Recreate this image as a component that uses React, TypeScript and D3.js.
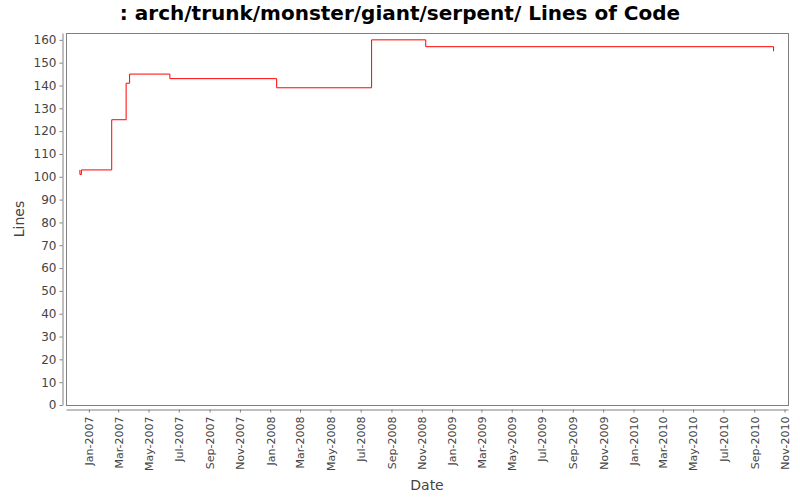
import { useEffect, useRef } from "react";

import * as d3 from "d3";

// change dates and line counts
const change_dates: string[] = [
    "2006-12-14", "2006-12-14", "2006-12-17", "2007-02-16", "2007-03-17",
    "2007-03-24", "2007-06-13", "2008-01-14", "2008-07-23", "2008-11-09",
    "2010-10-10",
];
const line_counts: number[] = [103, 101, 103, 125, 141, 145, 143, 139, 160, 157, 155];

const y_ticks: number[] = d3.range(0, 161, 10);
const x_domain: string[] = ["2006-11-16", "2010-11-08"];
const y_domain: number[] = [0, 163];

const title = ": arch/trunk/monster/giant/serpent/ Lines of Code";

export default function App() {
    const ref = useRef(null);

    useEffect(() => {
        const svg_width = 800;
        const svg_height = 500;
        const plot = { left: 66, right: 788, top: 33, bottom: 405 };
        const font = "DejaVu Sans, sans-serif";
        const parse = d3.timeParse("%Y-%m-%d");

        const data = change_dates.map((d, i) => ({ date: parse(d) as Date, value: line_counts[i] }));

        const svg = d3.select(ref.current)
            .append("svg")
                .attr("width", svg_width)
                .attr("height", svg_height)
                .style("background-color", "white")
                .style("display", "block");

        const x = d3.scaleTime()
            .domain(x_domain.map((d) => parse(d) as Date))
            .range([plot.left, plot.right]);

        const y = d3.scaleLinear()
            .domain(y_domain)
            .range([plot.bottom, plot.top]);

        // title
        svg.append("text")
            .attr("x", svg_width / 2)
            .attr("y", 20)
            .attr("text-anchor", "middle")
            .style("font-family", font)
            .style("font-weight", "bold")
            .style("font-size", "20px")
            .text(title);

        // plot frame
        svg.append("rect")
            .attr("x", plot.left + 0.5)
            .attr("y", plot.top + 0.5)
            .attr("width", plot.right - plot.left)
            .attr("height", plot.bottom - plot.top)
            .attr("fill", "white")
            .attr("stroke", "#808080");

        // y axis, drawn a bit off the plot like the original
        const yAxis = svg.append("g")
            .attr("transform", "translate(" + (plot.left - 3.5) + ",0)")
            .call(d3.axisLeft(y).tickValues(y_ticks).tickSize(3).tickPadding(3).tickSizeOuter(0));
        yAxis.select(".domain").attr("stroke", "#808080");
        yAxis.selectAll(".tick line").attr("stroke", "#808080");
        yAxis.selectAll(".tick text")
            .attr("fill", "#444")
            .style("font-family", font)
            .style("font-size", "12px");

        // x axis
        const xAxis = svg.append("g")
            .attr("transform", "translate(0," + (plot.bottom + 4.5) + ")")
            .call(d3.axisBottom(x)
                .ticks(d3.timeMonth.every(2))
                .tickFormat((d) => d3.timeFormat("%b-%Y")(d as Date))
                .tickSize(3)
                .tickSizeOuter(0));
        xAxis.select(".domain").attr("stroke", "#808080");
        xAxis.selectAll(".tick line").attr("stroke", "#808080");
        xAxis.selectAll(".tick text")
            .attr("fill", "#444")
            .attr("transform", "rotate(-90)")
            .attr("text-anchor", "end")
            .attr("x", -7)
            .attr("y", 0)
            .attr("dy", "0.35em")
            .style("font-family", font)
            .style("font-size", "11px");

        // axis labels
        svg.append("text")
            .attr("transform", "translate(24," + ((plot.top + plot.bottom) / 2) + ") rotate(-90)")
            .attr("text-anchor", "middle")
            .attr("fill", "#444")
            .style("font-family", font)
            .style("font-size", "14px")
            .text("Lines");

        svg.append("text")
            .attr("x", (plot.left + plot.right) / 2)
            .attr("y", 490)
            .attr("text-anchor", "middle")
            .attr("fill", "#444")
            .style("font-family", font)
            .style("font-size", "14px")
            .text("Date");

        // the step line
        const line = d3.line<{ date: Date; value: number }>()
            .x((d) => x(d.date))
            .y((d) => y(d.value))
            .curve(d3.curveStepAfter);

        svg.append("path")
            .datum(data)
            .attr("fill", "none")
            .attr("stroke", "red")
            .attr("stroke-width", 1)
            .attr("d", line);

        return () => {
            d3.select(ref.current).selectAll("*").remove();
        }
    }, [ref]);

    return (
        <div ref={ref} style={{ position: "absolute", left: 0, top: 0 }}></div>
    );
}
